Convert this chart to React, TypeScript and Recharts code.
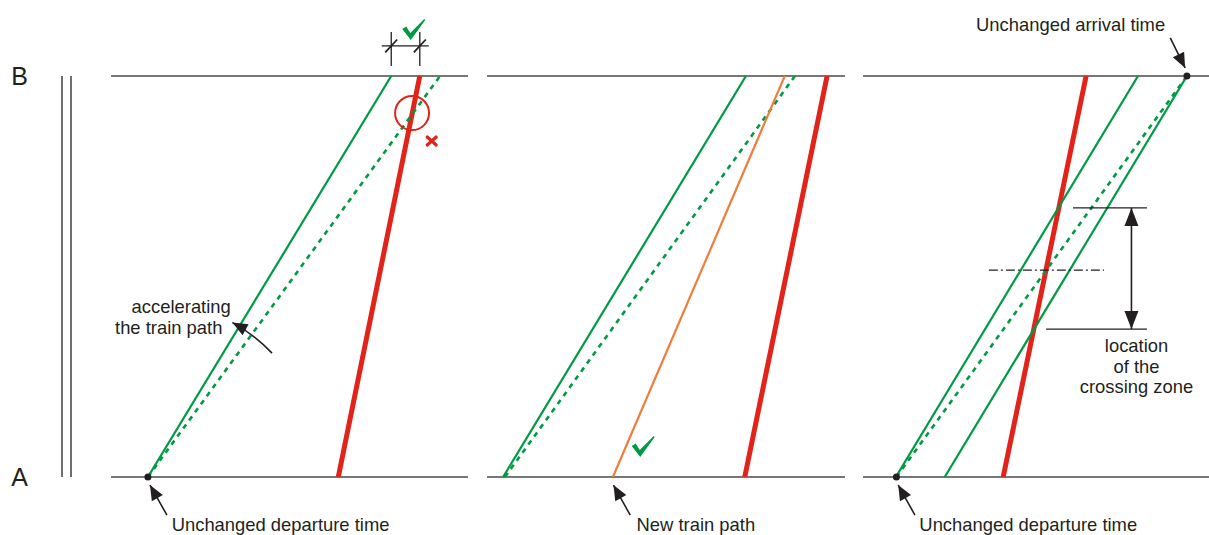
import { LineChart, Line, XAxis, YAxis, ReferenceLine, ReferenceDot } from 'recharts'

const GREEN = '#009a44'
const RED = '#e2231a'
const ORANGE = '#ef7d3c'
const INK = '#231f20'
const RULE = '#4a4a4a'
const FONT = '"Liberation Sans", Arial, sans-serif'

// distance axis: A = 0 km, B = 20 km
const stationTicks = [0, 20]
const stationNames = ['A', 'B']
// double track drawn beside the station names
const tracks = [0, 1]

// panel 1 - accelerating the train path (time in minutes, 0..60)
const p1Planned = [{ t: 6.2, d: 0 }, { t: 55.3, d: 20 }]
const p1Accelerated = [{ t: 6.2, d: 0 }, { t: 47.1, d: 20 }]
const p1Conflict = [{ t: 38.2, d: 0 }, { t: 51.9, d: 20 }]
const p1Gap = [47.1, 51.9]
const p1Notes = [
  { t: 11.8, d: 8.5, text: 'accelerating' },
  { t: 9.7, d: 7.48, text: 'the train path' },
  { t: 28.5, d: -2.37, text: 'Unchanged departure time' },
]
const p1Arrows = [
  { t1: 9.4, d1: -1.9, t2: 6.55, d2: -0.4, bend: 0 },
  { t1: 27.06, d1: 6.18, t2: 20.4, d2: 7.7, bend: -4 },
]

// panel 2 - new train path (0..60)
const p2Planned = [{ t: 3.0, d: 0 }, { t: 51.6, d: 20 }]
const p2Accelerated = [{ t: 2.7, d: 0 }, { t: 43.4, d: 20 }]
const p2NewPath = [{ t: 21.1, d: 0 }, { t: 49.9, d: 20 }]
const p2Conflict = [{ t: 43.2, d: 0 }, { t: 57.0, d: 20 }]
const p2Notes = [{ t: 35.0, d: -2.37, text: 'New train path' }]
const p2Arrows = [{ t1: 24.0, d1: -1.9, t2: 21.2, d2: -0.4, bend: 0 }]

// panel 3 - crossing zone (0..58)
const p3Planned = [{ t: 5.6, d: 0 }, { t: 54.3, d: 20 }]
const p3Early = [{ t: 5.5, d: 0 }, { t: 46.1, d: 20 }]
const p3Late = [{ t: 13.7, d: 0 }, { t: 54.3, d: 20 }]
const p3Conflict = [{ t: 23.5, d: 0 }, { t: 37.4, d: 20 }]
const p3ZoneTop = [{ t: 35.2, d: 13.42 }, { t: 47.6, d: 13.42 }]
const p3ZoneBottom = [{ t: 30.7, d: 7.38 }, { t: 47.6, d: 7.38 }]
const p3ZoneMid = [{ t: 21.1, d: 10.32 }, { t: 40.4, d: 10.32 }]
const p3ZoneSpan = [{ t: 45.0, d: 13.42 }, { t: 45.0, d: 7.38 }]
const p3Notes = [
  { t: 34.8, d: 22.57, text: 'Unchanged arrival time' },
  { t: 45.85, d: 6.55, text: 'location' },
  { t: 45.85, d: 5.51, text: 'of the' },
  { t: 45.85, d: 4.51, text: 'crossing zone' },
  { t: 27.7, d: -2.37, text: 'Unchanged departure time' },
]
const p3Arrows = [
  { t1: 51.5, d1: 21.9, t2: 54.0, d2: 20.4, bend: 0 },
  { t1: 8.7, d1: -1.9, t2: 5.9, d2: -0.4, bend: 0 },
]

const textAt = (text: string, size = 18.4) => (p: any) => (
  <text
    x={p.cx}
    y={p.cy}
    textAnchor="middle"
    dominantBaseline="central"
    fontFamily={FONT}
    fontSize={size}
    fill={INK}
  >
    {text}
  </text>
)

function head(x: number, y: number, a: number, len: number, half: number) {
  const bx = x - len * Math.cos(a)
  const by = y - len * Math.sin(a)
  const sx = half * Math.sin(a)
  const sy = half * Math.cos(a)
  return `${x},${y} ${bx + sx},${by - sy} ${bx - sx},${by + sy}`
}

const arrowShape = (bend = 0, both = false, len = 15, half = 6.3) => (p: any) => {
  const { x1, y1, x2, y2 } = p
  const mx = (x1 + x2) / 2
  const my = (y1 + y2) / 2
  const L = Math.hypot(x2 - x1, y2 - y1) || 1
  const cx = mx + (bend * (y2 - y1)) / L
  const cy = my - (bend * (x2 - x1)) / L
  const aEnd = Math.atan2(y2 - cy, x2 - cx)
  const aStart = Math.atan2(y1 - cy, x1 - cx)
  return (
    <g>
      <path
        d={`M${x1},${y1} Q${cx},${cy} ${x2},${y2}`}
        fill="none"
        stroke={INK}
        strokeWidth={1.6}
      />
      <polygon points={head(x2, y2, aEnd, len, half)} fill={INK} />
      {both && <polygon points={head(x1, y1, aStart, len, half)} fill={INK} />}
    </g>
  )
}

const checkShape = (p: any) => (
  <path
    transform={`translate(${p.cx},${p.cy})`}
    d="M-11,-1 L-7,-3.5 L-3,3 L11,-11 L12,-10 L-2.5,10 Z"
    fill={GREEN}
  />
)

const crossShape = (p: any) => (
  <g transform={`translate(${p.cx},${p.cy})`} stroke={RED} strokeWidth={3.2} strokeLinecap="round">
    <line x1={-4.5} y1={-4} x2={4.5} y2={4} />
    <line x1={4.5} y1={-4} x2={-4.5} y2={4} />
  </g>
)

const MARGIN_Y = { top: 76, bottom: 58 }

function railLines() {
  return [
    <ReferenceLine key="a" y={0} stroke={RULE} strokeWidth={1.5} ifOverflow="visible" />,
    <ReferenceLine key="b" y={20} stroke={RULE} strokeWidth={1.5} ifOverflow="visible" />,
  ]
}

function axes(max: number) {
  return [
    <XAxis key="x" dataKey="t" type="number" domain={[0, max]} allowDataOverflow hide />,
    <YAxis key="y" dataKey="d" type="number" domain={[0, 20]} allowDataOverflow hide />,
  ]
}

function path(key: string, data: { t: number; d: number }[], color: string, width: number, dashed = false) {
  return (
    <Line
      key={key}
      data={data}
      dataKey="d"
      type="linear"
      stroke={color}
      strokeWidth={width}
      strokeDasharray={dashed ? '5 5' : undefined}
      dot={false}
      activeDot={false}
      isAnimationActive={false}
    />
  )
}

function notes(list: { t: number; d: number; text: string }[]) {
  return list.map((n, i) => (
    <ReferenceDot key={`n${i}`} x={n.t} y={n.d} r={1} ifOverflow="visible" shape={textAt(n.text)} />
  ))
}

function arrows(list: { t1: number; d1: number; t2: number; d2: number; bend: number }[]) {
  return list.map((a, i) => (
    <ReferenceLine
      key={`a${i}`}
      segment={[{ x: a.t1, y: a.d1 }, { x: a.t2, y: a.d2 }]}
      ifOverflow="visible"
      shape={arrowShape(a.bend)}
    />
  ))
}

const stationData = stationTicks.map((d, i) => ({ t: i, d }))

export default function App() {
  return (
    <div style={{ position: 'absolute', left: 0, top: 0, width: 1209, height: 535, background: '#fff' }}>
      {/* station axis */}
      <div style={{ position: 'absolute', left: 0, top: 0 }}>
        <LineChart width={111} height={535} data={stationData} margin={{ ...MARGIN_Y, left: 0, right: 40 }}>
          <XAxis dataKey="t" type="number" domain={[0, 1]} allowDataOverflow hide />
          <YAxis
            dataKey="d"
            type="number"
            domain={[0, 20]}
            ticks={stationTicks}
            tickFormatter={(v: number) => stationNames[stationTicks.indexOf(v)]}
            allowDataOverflow
            width={62}
            axisLine={false}
            tickLine={false}
            tickSize={0}
            tickMargin={34}
            tick={{ fill: INK, fontSize: 25, fontFamily: FONT }}
          />
          {tracks.map((x) => (
            <ReferenceLine
              key={`t${x}`}
              segment={[{ x, y: 0 }, { x, y: 20 }]}
              stroke={INK}
              strokeWidth={1.3}
              ifOverflow="visible"
            />
          ))}
        </LineChart>
      </div>

      {/* panel 1 */}
      <div style={{ position: 'absolute', left: 100, top: 0 }}>
        <LineChart width={380} height={535} margin={{ ...MARGIN_Y, left: 11, right: 12 }}>
          {axes(60)}
          {railLines()}
          {path('p1c', p1Conflict, RED, 5)}
          {path('p1p', p1Planned, GREEN, 2.6, true)}
          {path('p1a', p1Accelerated, GREEN, 2.2)}
          <ReferenceDot x={6.2} y={0} r={3.5} fill={INK} stroke="none" ifOverflow="visible" />
          <ReferenceDot x={50.6} y={18.15} r={17} fill="none" stroke={RED} strokeWidth={2} ifOverflow="visible" />
          <ReferenceDot x={53.9} y={16.76} r={1} ifOverflow="visible" shape={crossShape} />
          <ReferenceDot x={50.8} y={22.3} r={1} ifOverflow="visible" shape={checkShape} />
          {p1Gap.map((t) => (
            <ReferenceLine
              key={`g${t}`}
              segment={[{ x: t, y: 20.5 }, { x: t, y: 22.2 }]}
              stroke={INK}
              strokeWidth={1.3}
              ifOverflow="visible"
            />
          ))}
          {p1Gap.map((t) => (
            <ReferenceLine
              key={`s${t}`}
              segment={[{ x: t - 1, y: 21.18 }, { x: t + 1, y: 21.82 }]}
              stroke={INK}
              strokeWidth={1.8}
              ifOverflow="visible"
            />
          ))}
          <ReferenceLine
            segment={[{ x: 45.5, y: 21.5 }, { x: 53.4, y: 21.5 }]}
            stroke={INK}
            strokeWidth={1.3}
            ifOverflow="visible"
          />
          {arrows(p1Arrows)}
          {notes(p1Notes)}
        </LineChart>
      </div>

      {/* panel 2 */}
      <div style={{ position: 'absolute', left: 478, top: 0 }}>
        <LineChart width={380} height={535} margin={{ ...MARGIN_Y, left: 9, right: 13 }}>
          {axes(60)}
          {railLines()}
          {path('p2c', p2Conflict, RED, 5)}
          {path('p2p', p2Planned, GREEN, 2.6, true)}
          {path('p2a', p2Accelerated, GREEN, 2.2)}
          {path('p2n', p2NewPath, ORANGE, 2.2)}
          <ReferenceDot x={26.1} y={1.5} r={1} ifOverflow="visible" shape={checkShape} />
          {arrows(p2Arrows)}
          {notes(p2Notes)}
        </LineChart>
      </div>

      {/* panel 3 */}
      <div style={{ position: 'absolute', left: 858, top: 0 }}>
        <LineChart width={351} height={535} margin={{ ...MARGIN_Y, left: 5, right: 0 }}>
          {axes(58)}
          {railLines()}
          {path('p3c', p3Conflict, RED, 5)}
          {path('p3p', p3Planned, GREEN, 2.6, true)}
          {path('p3e', p3Early, GREEN, 2.2)}
          {path('p3l', p3Late, GREEN, 2.2)}
          <ReferenceDot x={5.6} y={0} r={3.5} fill={INK} stroke="none" ifOverflow="visible" />
          <ReferenceDot x={54.3} y={20} r={3.5} fill={INK} stroke="none" ifOverflow="visible" />
          {[p3ZoneTop, p3ZoneBottom].map((z, i) => (
            <ReferenceLine
              key={`z${i}`}
              segment={[{ x: z[0].t, y: z[0].d }, { x: z[1].t, y: z[1].d }]}
              stroke={INK}
              strokeWidth={1.3}
              ifOverflow="visible"
            />
          ))}
          <ReferenceLine
            segment={[{ x: p3ZoneMid[0].t, y: p3ZoneMid[0].d }, { x: p3ZoneMid[1].t, y: p3ZoneMid[1].d }]}
            stroke={INK}
            strokeWidth={1.1}
            strokeDasharray="9 3 2 3"
            ifOverflow="visible"
          />
          <ReferenceLine
            segment={[{ x: p3ZoneSpan[0].t, y: p3ZoneSpan[0].d }, { x: p3ZoneSpan[1].t, y: p3ZoneSpan[1].d }]}
            ifOverflow="visible"
            shape={arrowShape(0, true, 18, 7)}
          />
          {arrows(p3Arrows)}
          {notes(p3Notes)}
        </LineChart>
      </div>
    </div>
  )
}
